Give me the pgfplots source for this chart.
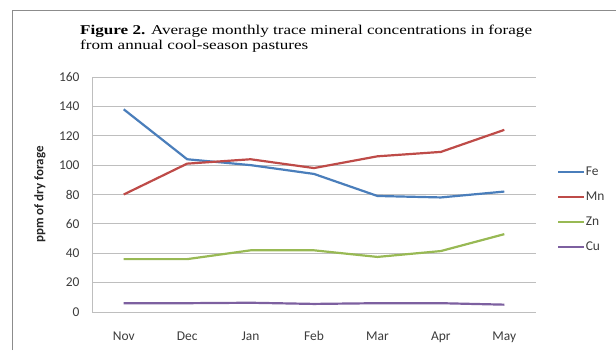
\documentclass[border=0pt]{standalone}
\usepackage{fontspec}
\setmainfont{Liberation Serif}
\newfontfamily\calibri{Carlito}
\usepackage{pgfplots}
\pgfplotsset{compat=1.18}
\definecolor{cFe}{RGB}{74,126,187}
\definecolor{cMn}{RGB}{190,75,72}
\definecolor{cZn}{RGB}{152,185,84}
\definecolor{cCu}{RGB}{125,96,160}
\definecolor{gridc}{RGB}{190,190,190}
\definecolor{framec}{RGB}{140,140,140}
\definecolor{txt}{RGB}{60,60,60}
\begin{document}
\begin{tikzpicture}[x=1bp,y=1bp]
\path[use as bounding box] (0,0) rectangle (616,350);
\draw[framec, line width=1bp] (12,0) -- (12,339) -- (616,339);
\node[anchor=base west, inner sep=0, font=\fontsize{13.5}{15}\selectfont] at (80,316) {\scalebox{1.27}[1]{\textbf{Figure 2.} Average monthly trace mineral concentrations in forage}};
\node[anchor=base west, inner sep=0, font=\fontsize{13.5}{15}\selectfont] at (80,301) {\scalebox{1.27}[1]{from annual cool-season pastures}};
\begin{axis}[
  at={(92bp,38bp)}, anchor=south west,
  width=444bp, height=235bp, scale only axis,
  xmin=-0.5, xmax=6.5, ymin=0, ymax=160,
  axis x line*=bottom, axis y line*=left,
  axis line style={gridc, line width=0.8bp},
  xtick={0,1,2,3,4,5,6},
  xticklabels={Nov,Dec,Jan,Feb,Mar,Apr,May},
  ytick={0,20,40,60,80,100,120,140,160},
  ymajorgrids, grid style={gridc, line width=0.8bp},
  major tick length=0,
  tick label style={font=\calibri\fontsize{13.5}{15}\selectfont, text=txt},
  /pgf/number format/assume math mode=true,
  yticklabel style={xshift=-9bp},
  xticklabel style={anchor=base, yshift=-28bp},
  ylabel={\calibri\bfseries ppm of dry forage},
  ylabel style={at={(axis description cs:-0.117,0.5)}, anchor=center, font=\fontsize{13}{15}\selectfont, text=black!85},
  legend style={at={(axis description cs:1.047,0.627)}, anchor=north west, draw=none, fill=none,
    font=\calibri\fontsize{13.5}{15}\selectfont, text=txt, inner sep=0pt, row sep=11bp,
    nodes={inner sep=0.5bp, text height=10bp, text depth=3bp}},
  legend cell align=left,
  legend image code/.code={\draw[#1, line width=2.2bp] (0,0) -- (26bp,0);},
  every axis plot/.append style={line width=2.2bp, mark=none},
  clip=false,
]
\addplot[cFe] coordinates {(0,138) (1,104) (2,100) (3,94) (4,79) (5,78) (6,82)};
\addlegendentry{Fe}
\addplot[cMn] coordinates {(0,80) (1,101) (2,104) (3,98) (4,106) (5,109) (6,124)};
\addlegendentry{Mn}
\addplot[cZn] coordinates {(0,36) (1,36) (2,42) (3,42) (4,37.5) (5,41.5) (6,53)};
\addlegendentry{Zn}
\addplot[cCu] coordinates {(0,6) (1,6) (2,6.3) (3,5.5) (4,6) (5,6) (6,5)};
\addlegendentry{Cu}
\end{axis}
\end{tikzpicture}
\end{document}
